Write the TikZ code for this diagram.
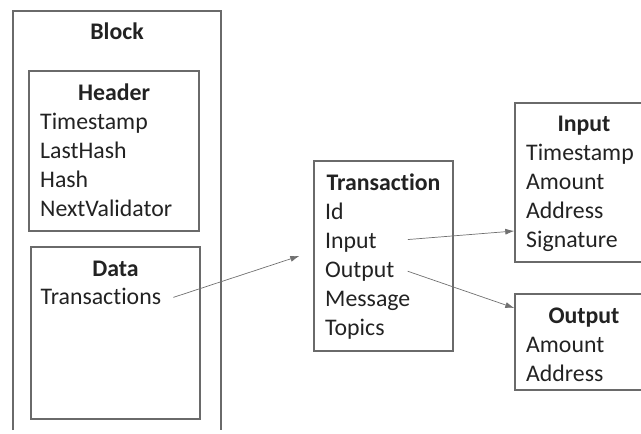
\documentclass[tikz,border=0pt]{standalone}
\usepackage{fontspec}
\setmainfont{Carlito}[Ligatures=NoCommon]
\usetikzlibrary{arrows.meta,positioning}
\definecolor{boxgray}{HTML}{6A6A6A}
\definecolor{inkgray}{HTML}{222222}
\definecolor{linkgray}{HTML}{707070}

\begin{document}
\begin{tikzpicture}[x=1pt, y=-1pt, text=inkgray,
  font=\fontsize{23.8}{29}\selectfont,
  box/.style={draw=boxgray, line width=1.4pt, inner sep=0pt},
  title/.style={anchor=base, inner sep=0pt, font=\fontsize{23.8}{29}\selectfont\bfseries},
  item/.style={anchor=base west, inner sep=0pt},
  link/.style={draw=linkgray, line width=0.7pt, -{Latex[length=9pt,width=6pt]}}]
  \useasboundingbox (0,0) rectangle (641,434);
  % block frame (open at the bottom)
  \draw[boxgray, line width=1.4pt] (13,430) -- (13,11) -- (221,11) -- (221,430);
  \node[title] (blk-title) at (117,39) {Block};
  % header
  \node[box, minimum width=170pt, minimum height=160pt] (header) at (114,151) {};
  \node[title] (hdr-title) at (114,100) {Header};
  \node[item] (hdr-time) at (40,129) {Timestamp};
  \node[item] (hdr-last) at (40,158) {LastHash};
  \node[item] (hdr-hash) at (40,187) {Hash};
  \node[item] (hdr-next) at (40,216) {NextValidator};
  % data
  \node[box, minimum width=169pt, minimum height=172pt] (data) at (115.5,333) {};
  \node[title] (dat-title) at (115.5,276) {Data};
  \node[item] (dat-trans) at (40.5,304) {Transactions};
  % transaction
  \node[box, minimum width=139pt, minimum height=190pt] (txbox) at (383.5,256) {};
  \node[title] (tx-title) at (383.5,190) {Transaction};
  \node[item] (tx-id) at (325,219) {Id};
  \node[item] (tx-input) at (325,248) {Input};
  \node[item] (tx-output) at (325,277) {Output};
  \node[item] (tx-msg) at (325,306) {Message};
  \node[item] (tx-topics) at (325,335) {Topics};
  % input
  \node[box, minimum width=138pt, minimum height=159pt] (inbox) at (584,182.5) {};
  \node[title] (in-title) at (584,131) {Input};
  \node[item] (in-time) at (526,160) {Timestamp};
  \node[item] (in-amount) at (526,189) {Amount};
  \node[item] (in-addr) at (526,218) {Address};
  \node[item] (in-sig) at (526,247) {Signature};
  % output
  \node[box, minimum width=138pt, minimum height=96pt] (outbox) at (584,342) {};
  \node[title] (out-title) at (584,323) {Output};
  \node[item] (out-amount) at (526,352) {Amount};
  \node[item] (out-addr) at (526,381) {Address};
  % links
  \draw[link] ([xshift=12pt, yshift=-1.5pt]dat-trans.east) -- ([xshift=-14pt]txbox.west);
  \draw[link] ([xshift=31pt, yshift=2.75pt]tx-input.east) -- ([yshift=-48.5pt]inbox.west);
  \draw[link] ([xshift=13pt]tx-output.east) -- ([yshift=34pt]outbox.west);
\end{tikzpicture}
\end{document}
